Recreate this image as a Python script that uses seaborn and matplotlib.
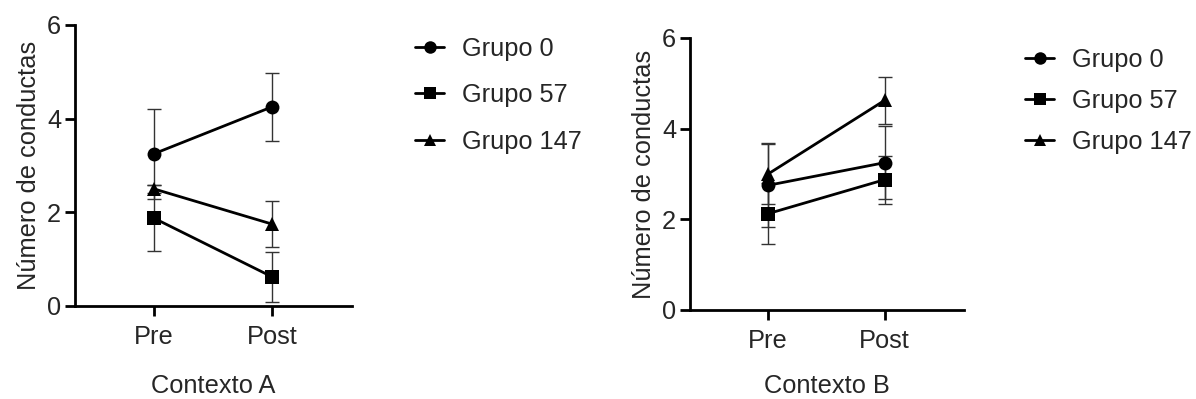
import numpy as np
import pandas as pd
import matplotlib
matplotlib.use("Agg")
import matplotlib.pyplot as plt
import seaborn as sns
from matplotlib.lines import Line2D

sns.set_theme(style="ticks")
plt.rcParams['font.family'] = ['Liberation Sans', 'DejaVu Sans']

momentos = ["Pre", "Post"]
grupos = ["Grupo 0", "Grupo 57", "Grupo 147"]

# Contexto A
a_g0 = [3.25, 4.25]
a_g57 = [1.875, 0.625]
a_g147 = [2.5, 1.75]
a_g0_err = [0.96, 0.73]
a_g57_err = [0.70, 0.53]
a_g147_err = [0.08, 0.5]

# Contexto B
b_g0 = [2.75, 3.25]
b_g57 = [2.125, 2.875]
b_g147 = [3.0, 4.625]
b_g0_err = [0.93, 0.80]
b_g57_err = [0.67, 0.53]
b_g147_err = [0.66, 0.52]

markers = {"Grupo 0": "o", "Grupo 57": "s", "Grupo 147": "^"}

def make_df(vals, errs):
    rows = []
    for g, v, e in zip(grupos, vals, errs):
        for i, m in enumerate(momentos):
            rows.append({"Momento": i, "Grupo": g, "Valor": v[i], "Err": e[i]})
    return pd.DataFrame(rows)

dfA = make_df([a_g0, a_g57, a_g147], [a_g0_err, a_g57_err, a_g147_err])
dfB = make_df([b_g0, b_g57, b_g147], [b_g0_err, b_g57_err, b_g147_err])

fig = plt.figure(figsize=(11.96, 3.99), dpi=100)
axA = fig.add_axes([0.0627, 0.2331, 0.2316, 0.7043])
axB = fig.add_axes([0.5769, 0.2231, 0.2291, 0.6817])

FS = 18.3

def draw(ax, df, xlabel, xlabelpad, legend_anchor, labelspacing):
    for g in grupos:
        d = df[df["Grupo"] == g]
        ax.errorbar(d["Momento"], d["Valor"], yerr=d["Err"], fmt="none",
                    ecolor="#333333", elinewidth=1.0, capsize=5, capthick=1.0, zorder=2)
    sns.lineplot(data=df, x="Momento", y="Valor", hue="Grupo", style="Grupo",
                 markers=markers, dashes=False, palette=["black"] * 3,
                 markersize=10, linewidth=2, markeredgewidth=0, ax=ax,
                 legend=False, zorder=3)
    ax.set_xlim(-0.67, 1.68)
    ax.set_ylim(0, 6)
    ax.set_yticks([0, 2, 4, 6])
    ax.set_xticks([0, 1])
    ax.set_xticklabels(momentos)
    ax.set_xlabel(xlabel, fontsize=FS, labelpad=xlabelpad)
    ax.set_ylabel("Número de conductas", fontsize=FS, labelpad=4)
    ax.tick_params(axis="both", labelsize=FS, width=2, length=7, color="black")
    ax.tick_params(axis="x", pad=7)
    ax.tick_params(axis="y", pad=3)
    for s in ["left", "bottom"]:
        ax.spines[s].set_linewidth(2)
        ax.spines[s].set_color("black")
    sns.despine(ax=ax)
    handles = [Line2D([0], [0], color="black", lw=2, marker=markers[g], markersize=9,
                      markeredgewidth=0) for g in grupos]
    fig.legend(handles, grupos, loc="upper left", bbox_to_anchor=legend_anchor,
               frameon=False, fontsize=FS, handlelength=1.15, handletextpad=0.7,
               labelspacing=labelspacing, borderaxespad=0, borderpad=0)

draw(axA, dfA, "Contexto A", 18, (415 / 1196, 1 - 37 / 399), 0.88)
draw(axB, dfB, "Contexto B", 14.5, (1025 / 1196, 1 - 48 / 399), 0.67)

fig.savefig("out.png", dpi=100)
